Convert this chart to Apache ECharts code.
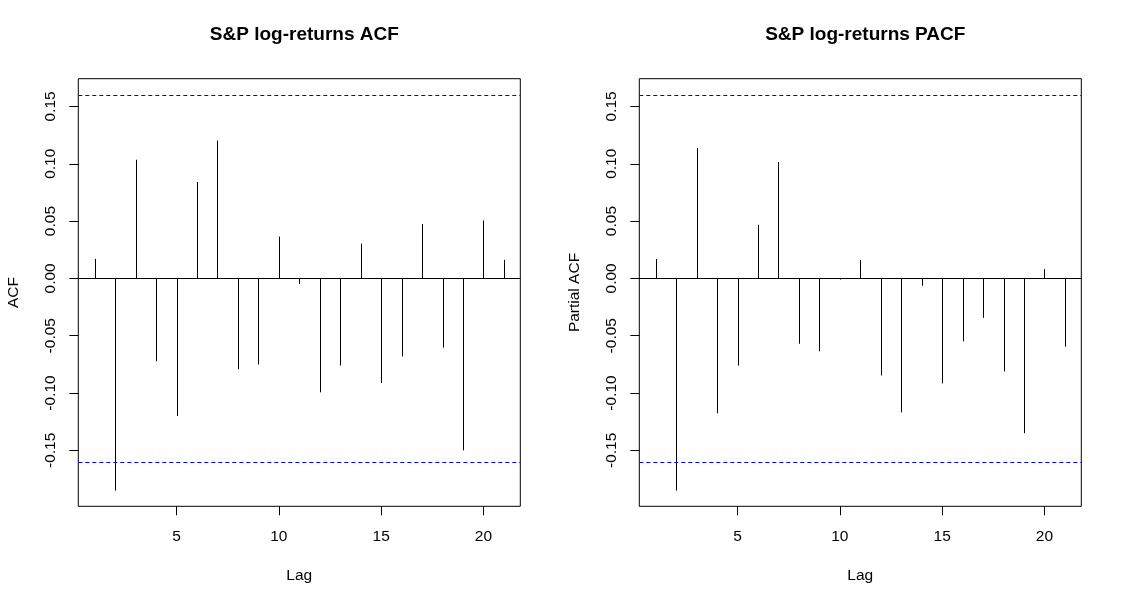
<!DOCTYPE html>
<html>
<head>
<meta charset="utf-8">
<script src="https://cdn.jsdelivr.net/npm/echarts@6/dist/echarts.min.js"></script>
<style>
html,body{margin:0;padding:0;background:#fff;}
#c{width:1121px;height:604px;}
</style>
</head>
<body>
<div id="c"></div>
<script>
// ---- data ----
var lags = [1,2,3,4,5,6,7,8,9,10,11,12,13,14,15,16,17,18,19,20,21];
var acfValues = [0.017, -0.185, 0.1035, -0.0723, -0.120, 0.0841, 0.1203, -0.0792, -0.0751, 0.0365, -0.0048,
                 -0.0994, -0.0760, 0.0303, -0.0913, -0.0680, 0.0474, -0.0604, -0.150, 0.0506, 0.0162];
var pacfValues = [0.0169, -0.185, 0.1137, -0.1176, -0.0760, 0.0468, 0.1015, -0.0570, -0.0636, -0.0010, 0.0160,
                  -0.0847, -0.1168, -0.0064, -0.0916, -0.0549, -0.0344, -0.0812, -0.1350, 0.0081, -0.0595];
var confLimit = 0.161;
var xTicks = [5, 10, 15, 20];
var yTicks = [-0.15, -0.10, -0.05, 0.00, 0.05, 0.10, 0.15];
var titles = ['S&P log-returns ACF', 'S&P log-returns PACF'];
var yNames = ['ACF', 'Partial ACF'];
var xName = 'Lag';

var FONT = '"Liberation Sans", Arial, Helvetica, sans-serif';
var chart = echarts.init(document.getElementById('c'), null, {renderer: 'canvas'});

function pairs(vals) { return lags.map(function (l, i) { return [l, vals[i]]; }); }

var gridLefts = [78.3, 639.3];
var gridW = 442, gridTop = 78.7, gridH = 427.6;

function mkX(i) {
  return {
    type: 'value', gridIndex: i, min: 0.2, max: 21.8,
    axisLine: {show: false, onZero: false},
    splitLine: {show: false},
    axisTick: {show: true, length: 9, lineStyle: {color: '#000', width: 1}, customValues: xTicks},
    axisLabel: {color: '#000', fontFamily: FONT, fontSize: 15.5, margin: 22, customValues: xTicks,
                formatter: function (v) { return String(v); }},
    name: xName, nameLocation: 'middle', nameGap: 61,
    nameTextStyle: {color: '#000', fontFamily: FONT, fontSize: 15.5}
  };
}
function mkY(i) {
  return {
    type: 'value', gridIndex: i, min: -0.1988, max: 0.1742,
    axisLine: {show: false, onZero: false},
    splitLine: {show: false},
    axisTick: {show: true, length: 9, lineStyle: {color: '#000', width: 1}, customValues: yTicks},
    axisLabel: {color: '#000', fontFamily: FONT, fontSize: 15.5, margin: 20, rotate: 90, customValues: yTicks,
                formatter: function (v) { return v.toFixed(2); }},
    name: yNames[i], nameLocation: 'middle', nameGap: 57, nameRotate: 90,
    nameTextStyle: {color: '#000', fontFamily: FONT, fontSize: 15.5}
  };
}
function mkSeries(i, vals) {
  return {
    type: 'custom', xAxisIndex: i, yAxisIndex: i,
    data: pairs(vals),
    renderItem: function (params, api) {
      var p0 = api.coord([api.value(0), 0]);
      var p1 = api.coord([api.value(0), api.value(1)]);
      var x = Math.round(p0[0]) + 0.5;
      return {type: 'line', shape: {x1: x, y1: p0[1], x2: x, y2: p1[1]},
              style: {stroke: '#000', lineWidth: 1}};
    },
    markLine: {
      silent: true, symbol: 'none', animation: false,
      label: {show: false},
      lineStyle: {color: '#0000ff', type: [4, 3], width: 1},
      data: [
        {yAxis: confLimit, lineStyle: {color: '#0000ff', type: [4, 3], width: 1}},
        {yAxis: -confLimit, lineStyle: {color: '#0000ff', type: [4, 3], width: 1}},
        {yAxis: 0, lineStyle: {color: '#000000', type: 'solid', width: 1}}
      ]
    }
  };
}

chart.setOption({
  animation: false,
  backgroundColor: '#fff',
  title: [0, 1].map(function (i) {
    return {text: titles[i], left: gridLefts[i] + gridW / 2, textAlign: 'center', top: 20,
            textStyle: {color: '#000', fontFamily: FONT, fontSize: 19, fontWeight: 'bold'}};
  }),
  grid: [0, 1].map(function (i) {
    return {left: gridLefts[i], top: gridTop, width: gridW, height: gridH, show: true,
            borderColor: '#000', borderWidth: 1, backgroundColor: 'transparent', containLabel: false};
  }),
  xAxis: [mkX(0), mkX(1)],
  yAxis: [mkY(0), mkY(1)],
  series: [mkSeries(0, acfValues), mkSeries(1, pacfValues)]
});
</script>
</body>
</html>
